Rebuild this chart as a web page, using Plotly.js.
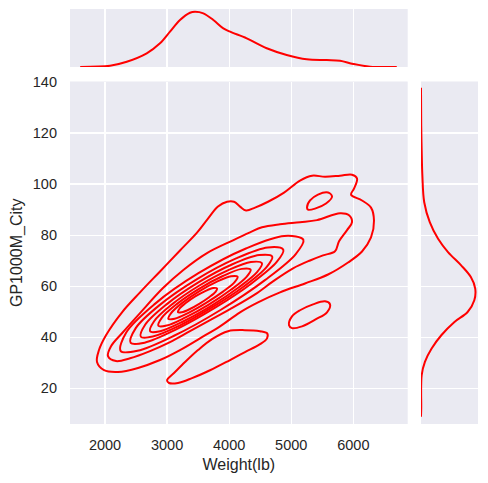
<!DOCTYPE html>
<html>
<head>
<meta charset="utf-8">
<script src="https://cdn.plot.ly/plotly-3.0.1.min.js"></script>
<style>html,body{margin:0;padding:0;background:#fff;}#chart{width:488px;height:483px;}</style>
</head>
<body>
<div id="chart"></div>
<script>
// ---- axis ticks ----
const weightTicks = [2000, 3000, 4000, 5000, 6000];
const cityTicks = [20, 40, 60, 80, 100, 120, 140];

// ---- marginal KDE of Weight(lb) (density, arbitrary units) ----
const margWeightX = [1600, 2081, 2350, 2672, 2886, 3047, 3208, 3369, 3450, 3584, 3745, 3906, 4014, 4283, 4605, 4927, 5249, 5572, 5786, 6000, 6269, 6700];
const margWeightDensity = [0.01, 0.11, 0.44, 1.14, 1.97, 2.94, 3.91, 4.52, 4.60, 4.47, 3.91, 3.22, 2.94, 2.39, 1.56, 1.00, 0.64, 0.58, 0.52, 0.25, 0.03, 0.01];

// ---- marginal KDE of GP1000M_City (density, arbitrary units) ----
const margCityY = [137.8, 122.8, 113.1, 103.3, 92.9, 85.1, 78.6, 73.4, 68.2, 63.6, 59.1, 54.5, 49.9, 46.0, 40.8, 35.6, 30.4, 25.2, 12.2, 8.9];
const margCityDensity = [0.0, 0.01, 0.03, 0.06, 0.14, 0.38, 0.74, 1.17, 1.74, 2.16, 2.35, 2.31, 2.02, 1.45, 0.88, 0.46, 0.17, 0.03, 0.01, 0.0];

// ---- joint KDE iso-lines (outermost level A ... innermost level I) ----
const levelA_mainX = [1871, 1903, 2016, 2274, 2564, 2886, 3208, 3482, 3659, 3820, 3966, 4078, 4175, 4272, 4417, 4626, 4884, 5141, 5335, 5544, 5786, 5979, 6060, 6011, 5963, 6140, 6285, 6333, 6285, 6140, 5915, 5593, 5222, 4819, 4465, 4175, 3853, 3530, 3208, 2886, 2532, 2209, 1984, 1871];
const levelA_mainY = [30.3, 35.0, 40.8, 49.8, 57.6, 65.8, 74.0, 81.0, 86.5, 91.2, 93.1, 93.1, 91.2, 89.7, 90.8, 93.1, 96.7, 101.4, 103.3, 102.9, 103.3, 103.7, 102.2, 98.2, 95.9, 93.6, 90.8, 85.7, 79.1, 73.6, 69.3, 64.6, 61.1, 57.6, 53.7, 49.8, 44.3, 39.6, 35.0, 31.1, 28.0, 26.4, 27.1, 30.3];
const levelA_lobeX = [2999, 3128, 3289, 3498, 3724, 3982, 4255, 4497, 4610, 4610, 4497, 4255, 4014, 3692, 3402, 3176, 3031, 2999];
const levelA_lobeY = [23.2, 26.4, 30.3, 35.0, 39.3, 42.4, 42.8, 42.4, 41.6, 39.6, 37.3, 34.2, 31.1, 27.1, 24.0, 22.1, 22.1, 23.2];
const levelA_islandX = [4964, 5012, 5141, 5351, 5544, 5625, 5576, 5399, 5174, 5012, 4964];
const levelA_islandY = [44.7, 48.2, 50.6, 52.9, 54.1, 52.9, 49.8, 47.1, 44.3, 43.6, 44.7];
const levelB_mainX = [2048, 2097, 2274, 2564, 2934, 3257, 3643, 4062, 4336, 4529, 4819, 5141, 5415, 5786, 5931, 5979, 5899, 5770, 5705, 5512, 5303, 5029, 4706, 4417, 4014, 3692, 3369, 3047, 2725, 2403, 2177, 2048];
const levelB_mainY = [32.6, 36.5, 41.6, 49.5, 59.3, 66.3, 73.0, 78.0, 81.1, 83.1, 84.3, 85.1, 85.9, 88.6, 87.8, 85.1, 82.0, 77.6, 73.7, 72.1, 70.1, 67.0, 61.9, 56.8, 51.0, 46.7, 42.4, 38.1, 34.6, 31.8, 30.7, 32.6];
const levelB_islandX = [5254, 5303, 5431, 5593, 5657, 5560, 5383, 5270, 5254];
const levelB_islandY = [90.8, 93.6, 95.9, 96.7, 95.1, 92.4, 90.4, 90.0, 90.8];
const levelC_X = [5195, 5069, 4582, 3867, 3112, 2522, 2253, 2342, 2799, 3505, 4270, 4889, 5195];
const levelC_Y = [78.2, 72.5, 62.5, 50.8, 40.6, 34.7, 34.6, 41.9, 53.0, 65.1, 74.8, 79.7, 78.2];
const levelD_X = [4872, 4766, 4360, 3761, 3131, 2638, 2414, 2495, 2883, 3476, 4112, 4623, 4872];
const levelD_Y = [74.3, 69.5, 61.1, 51.4, 42.9, 37.9, 37.8, 43.6, 52.7, 62.7, 70.9, 75.2, 74.3];
const levelE_X = [4694, 4602, 4252, 3737, 3194, 2770, 2577, 2649, 2986, 3497, 4044, 4483, 4694];
const levelE_Y = [71.6, 67.5, 60.2, 51.9, 44.5, 40.3, 40.2, 45.0, 52.8, 61.4, 68.5, 72.2, 71.6];
const levelF_X = [4528, 4449, 4151, 3711, 3250, 2889, 2727, 2791, 3079, 3514, 3978, 4350, 4528];
const levelF_Y = [69.0, 65.5, 59.5, 52.3, 46.1, 42.4, 42.3, 46.3, 52.9, 60.2, 66.2, 69.5, 69.0];
const levelG_X = [4346, 4280, 4033, 3671, 3290, 2994, 2860, 2917, 3155, 3514, 3898, 4202, 4346];
const levelG_Y = [66.5, 63.7, 58.7, 52.8, 47.7, 44.6, 44.5, 47.7, 53.0, 59.0, 64.0, 66.8, 66.5];
const levelH_X = [4136, 4088, 3901, 3629, 3344, 3121, 3021, 3065, 3245, 3516, 3803, 4030, 4136];
const levelH_Y = [63.7, 61.6, 57.9, 53.5, 49.6, 47.3, 47.2, 49.5, 53.5, 58.0, 61.8, 63.9, 63.7];
const levelI_X = [3804, 3780, 3677, 3524, 3361, 3234, 3176, 3199, 3300, 3453, 3614, 3743, 3804];
const levelI_Y = [59.1, 57.8, 55.7, 53.2, 51.0, 49.8, 49.8, 51.2, 53.4, 56.0, 58.1, 59.3, 59.1];

const contourLines = [
  [levelA_mainX, levelA_mainY], [levelA_lobeX, levelA_lobeY], [levelA_islandX, levelA_islandY],
  [levelB_mainX, levelB_mainY], [levelB_islandX, levelB_islandY],
  [levelC_X, levelC_Y], [levelD_X, levelD_Y], [levelE_X, levelE_Y], [levelF_X, levelF_Y],
  [levelG_X, levelG_Y], [levelH_X, levelH_Y], [levelI_X, levelI_Y]
];

const RED = '#ff0000';
const LW = 2;
const traces = contourLines.map(function (c) {
  return {
    type: 'scatter', mode: 'lines', x: c[0], y: c[1],
    xaxis: 'x', yaxis: 'y',
    line: {color: RED, width: LW, shape: 'spline', smoothing: 1},
    hoverinfo: 'skip'
  };
});
traces.push({
  type: 'scatter', mode: 'lines', x: margWeightX, y: margWeightDensity,
  xaxis: 'x', yaxis: 'y2', line: {color: RED, width: LW, shape: 'spline', smoothing: 1}, hoverinfo: 'skip'
});
traces.push({
  type: 'scatter', mode: 'lines', x: margCityDensity, y: margCityY,
  xaxis: 'x2', yaxis: 'y', line: {color: RED, width: LW, shape: 'spline', smoothing: 1}, hoverinfo: 'skip'
});

const TXT = '#262626';
const FONT = 'Liberation Sans, Arial, sans-serif';
const layout = {
  width: 488, height: 483,
  margin: {l: 0, r: 0, t: 0, b: 0},
  paper_bgcolor: '#ffffff', plot_bgcolor: '#EAEAF2',
  showlegend: false, hovermode: false,
  font: {family: FONT, color: TXT, size: 14.5},
  xaxis: {
    domain: [0.14344, 0.83545], range: [1436, 6876], anchor: 'y',
    tickmode: 'array', tickvals: weightTicks, ticktext: weightTicks.map(String),
    showgrid: true, gridcolor: '#ffffff', gridwidth: 1.3, zeroline: false, showline: false,
    ticks: '', ticklabelstandoff: 10, tickfont: {size: 14.5, color: TXT},
    title: {text: 'Weight(lb)', font: {size: 16, color: TXT}, standoff: 7}
  },
  yaxis: {
    domain: [0.12215, 0.83126], range: [6.04, 140.2], anchor: 'x',
    tickmode: 'array', tickvals: cityTicks, ticktext: cityTicks.map(String),
    showgrid: true, gridcolor: '#ffffff', gridwidth: 1.3, zeroline: false, showline: false,
    ticks: '', ticklabelstandoff: 12, tickfont: {size: 14.5, color: TXT},
    title: {text: 'GP1000M_City', font: {size: 16, color: TXT}, standoff: 6}
  },
  xaxis2: {
    domain: [0.8627, 0.97951], range: [0, 2.47], anchor: 'y',
    showgrid: false, showticklabels: false, zeroline: false, showline: false, ticks: ''
  },
  yaxis2: {
    domain: [0.86128, 0.98137], range: [0, 4.83], anchor: 'x',
    showgrid: false, showticklabels: false, zeroline: false, showline: false, ticks: ''
  }
};

Plotly.newPlot('chart', traces, layout, {displayModeBar: false, staticPlot: true});
</script>
</body>
</html>
